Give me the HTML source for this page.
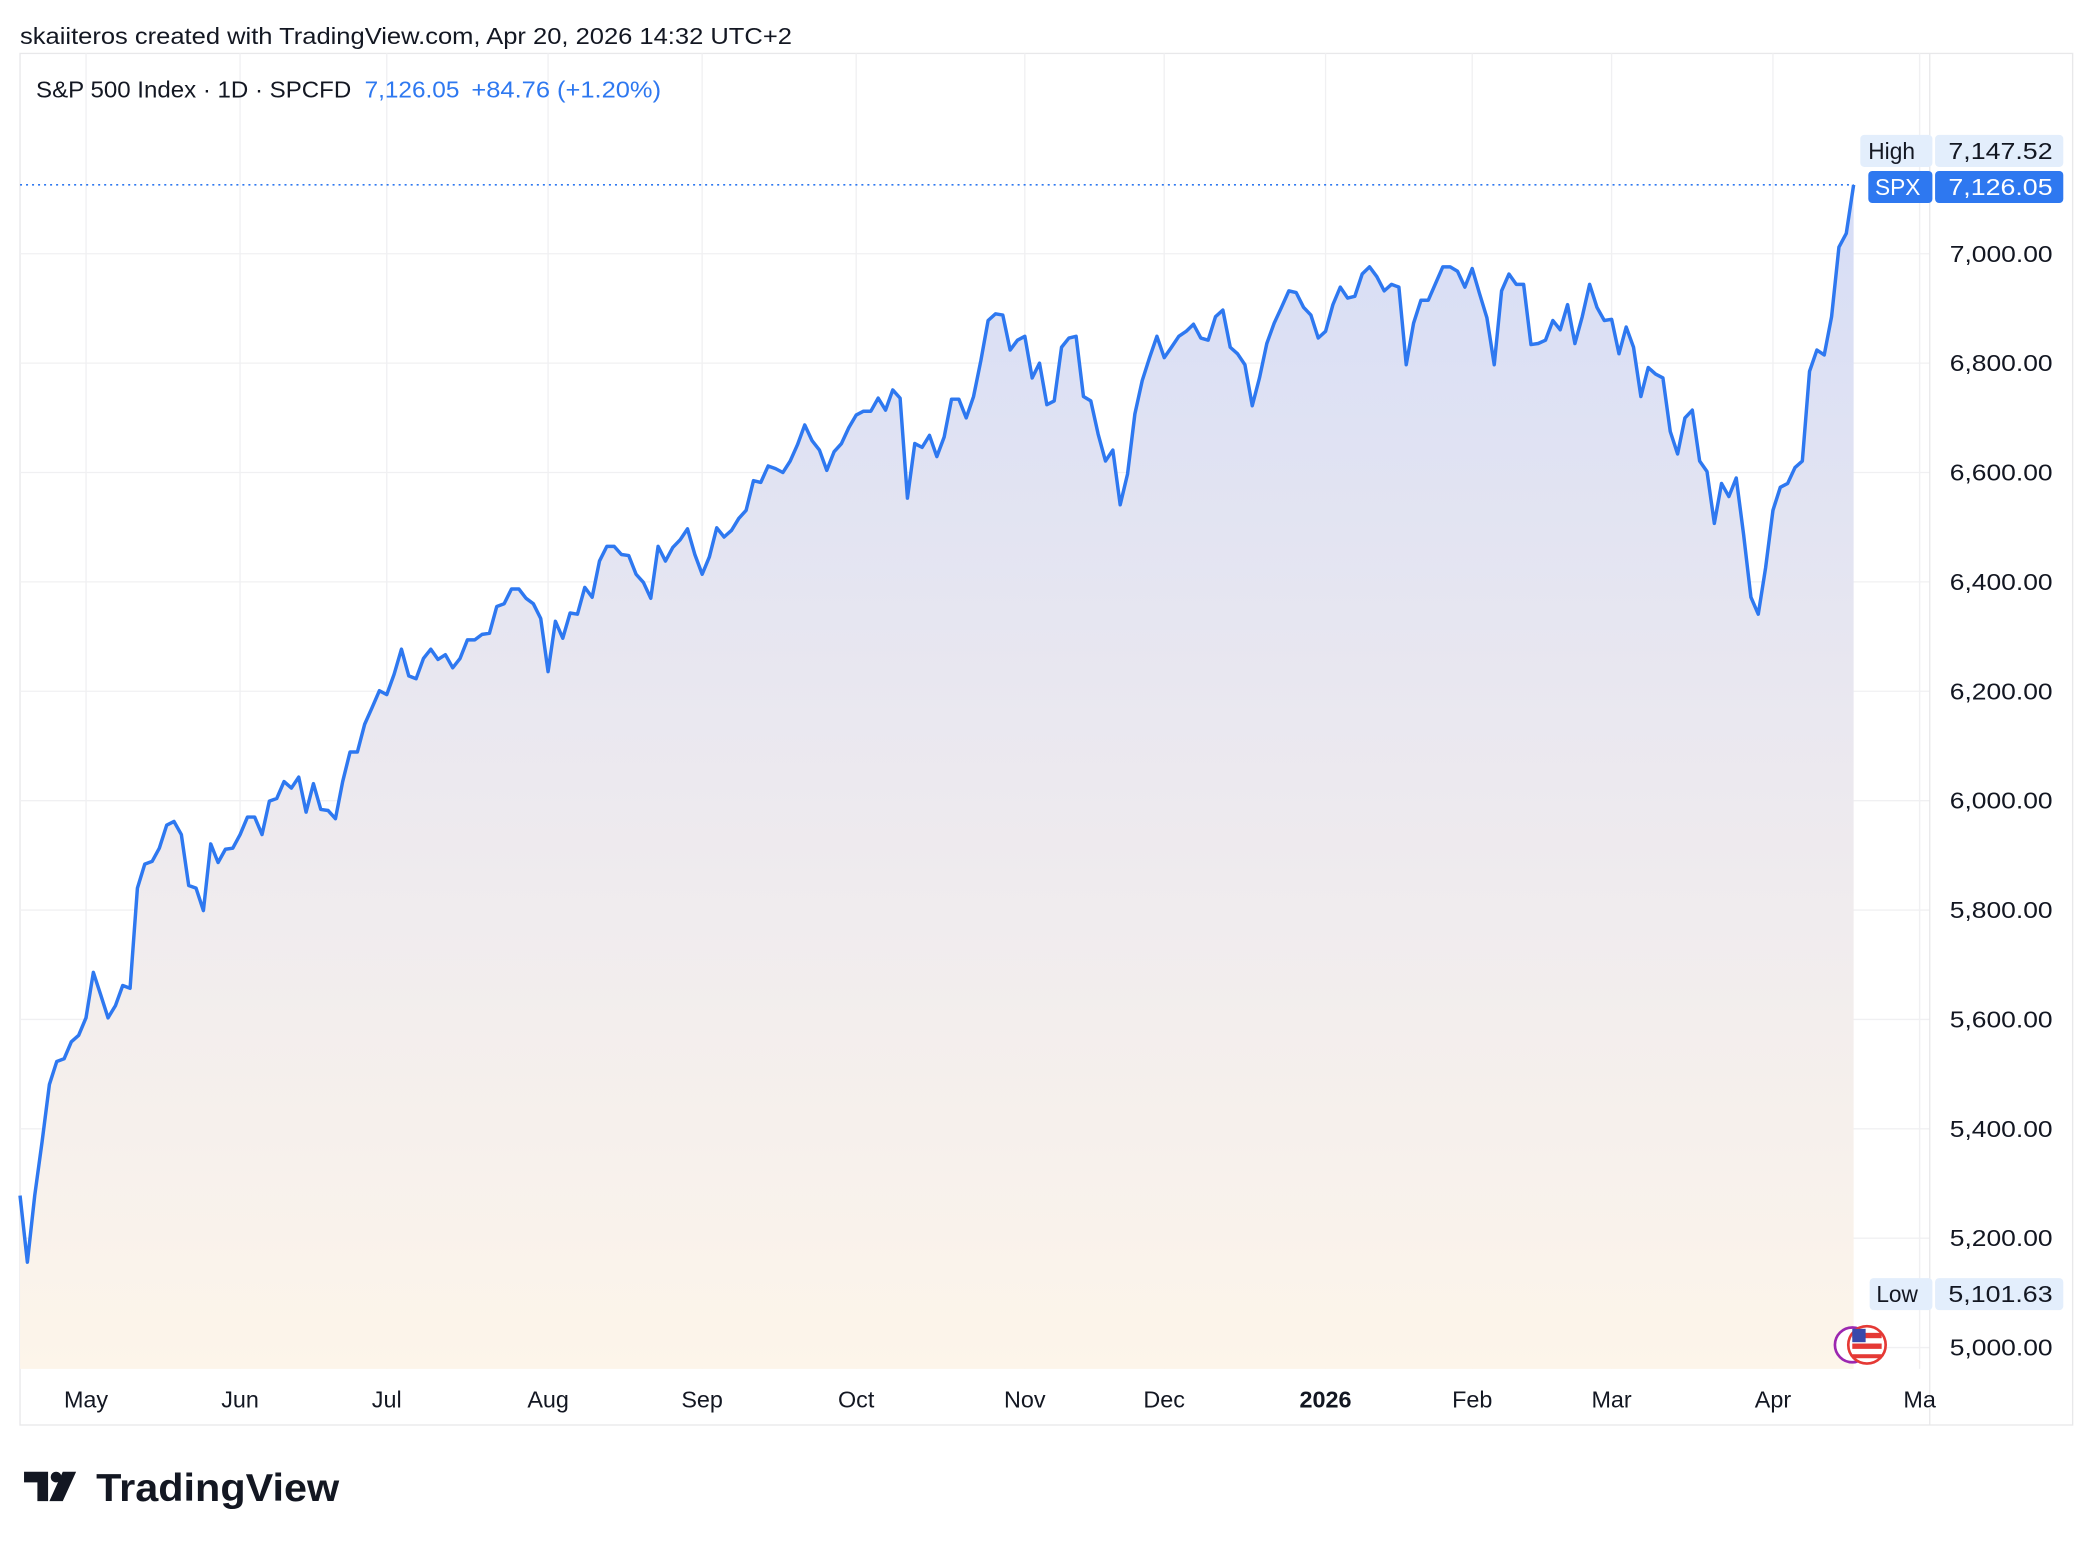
<!DOCTYPE html>
<html><head><meta charset="utf-8"><style>
html,body{margin:0;padding:0;background:#fff}
svg{display:block;font-family:"Liberation Sans",sans-serif}
</style></head><body>
<svg id="chart" width="2094" height="1546" viewBox="0 0 1568 1157.6" preserveAspectRatio="none">
<defs>
<linearGradient id="fillg" x1="0" y1="0" x2="0" y2="1">
<stop offset="0" stop-color="#d6ddf6"/>
<stop offset="0.5" stop-color="#ece9ef"/>
<stop offset="1" stop-color="#fdf5ea"/>
</linearGradient>
</defs>
<rect width="1568" height="1158" fill="#fff"/>
<text x="15" y="33" font-size="17" fill="#131722" textLength="578" lengthAdjust="spacingAndGlyphs">skaiiteros created with TradingView.com, Apr 20, 2026 14:32 UTC+2</text>
<rect x="15" y="40" width="1537" height="1027" fill="none" stroke="#e8e8ea"/>
<g id="grid"></g>
<path id="area" fill="url(#fillg)"/>
<line id="lastline" x1="15" x2="1388" stroke="#2e78f0" stroke-width="1.3" stroke-dasharray="1.5 3"/>
<path id="line" fill="none" stroke="#2e78f0" stroke-width="2.6" stroke-linejoin="round"/>
<line x1="1445" y1="40" x2="1445" y2="1067" stroke="#e8e8ea"/>
<g id="yaxis"></g>
<g id="xaxis"></g>
<g font-size="17">
<text x="27" y="73" fill="#131722" textLength="236" lengthAdjust="spacingAndGlyphs">S&amp;P 500 Index · 1D · SPCFD</text>
<text x="273" y="73" fill="#2e78f0" textLength="71" lengthAdjust="spacingAndGlyphs">7,126.05</text>
<text x="353" y="73" fill="#2e78f0" textLength="142" lengthAdjust="spacingAndGlyphs">+84.76 (+1.20%)</text>
</g>
<g font-size="17">
<rect x="1393" y="101" width="54" height="24" rx="3" fill="#e3eefc"/>
<rect x="1449" y="101" width="96" height="24" rx="3" fill="#e3eefc"/>
<text x="1399" y="119" fill="#131722">High</text>
<text x="1537" y="119" text-anchor="end" fill="#131722" textLength="78" lengthAdjust="spacingAndGlyphs">7,147.52</text>
</g>
<g font-size="17">
<rect x="1399" y="128" width="48" height="24" rx="3" fill="#2e78f0"/>
<rect x="1449" y="128" width="96" height="24" rx="3" fill="#2e78f0"/>
<text x="1404" y="146" fill="#fff">SPX</text>
<text x="1537" y="146" text-anchor="end" fill="#fff" textLength="78" lengthAdjust="spacingAndGlyphs">7,126.05</text>
</g>
<g font-size="17">
<rect x="1400" y="957" width="47" height="24" rx="3" fill="#e3eefc"/>
<rect x="1449" y="957" width="96" height="24" rx="3" fill="#e3eefc"/>
<text x="1405" y="975" fill="#131722">Low</text>
<text x="1537" y="975" text-anchor="end" fill="#131722" textLength="78" lengthAdjust="spacingAndGlyphs">5,101.63</text>
</g>
<g>
<circle cx="1387" cy="1007" r="13" fill="#fff" stroke="#9c27b0" stroke-width="2"/>
<circle cx="1398" cy="1007" r="14" fill="#fff" stroke="#e53935" stroke-width="2"/>
<rect x="1387" y="998" width="22" height="4" fill="#e53935"/><rect x="1387" y="1006" width="22" height="4" fill="#e53935"/><rect x="1387" y="1014" width="22" height="3" fill="#e53935"/>
<rect x="1387" y="995" width="10" height="10" fill="#3949ab"/>
</g>
<g>
<path d="M18 1102h18v22h-8v-14h-10z M47 1102h10l-10 22h-10z" fill="#131722"/>
<circle cx="42" cy="1106" r="4" fill="#131722"/>
<text x="72" y="1124" font-size="29" font-weight="bold" fill="#131722" textLength="182" lengthAdjust="spacingAndGlyphs">TradingView</text>
</g>
</svg>
<script>
const priceValues = [5278,5156,5278,5376,5481,5523,5528,5559,5571,5603,5686,5645,5603,5625,5662,5657,5840,5884,5889,5913,5955,5962,5938,5845,5840,5799,5921,5887,5911,5913,5938,5970,5970,5938,5999,6004,6035,6023,6043,5979,6031,5984,5982,5967,6035,6089,6089,6140,6170,6201,6194,6231,6277,6228,6223,6260,6277,6258,6267,6243,6260,6294,6294,6304,6306,6355,6360,6387,6387,6370,6360,6333,6236,6328,6297,6343,6341,6390,6372,6438,6465,6465,6450,6448,6414,6399,6370,6465,6438,6463,6477,6497,6450,6414,6446,6499,6482,6494,6516,6531,6585,6582,6612,6607,6600,6621,6651,6687,6658,6641,6604,6638,6653,6682,6705,6712,6712,6736,6714,6751,6736,6553,6653,6646,6668,6629,6665,6734,6734,6700,6739,6805,6878,6890,6888,6824,6842,6849,6773,6800,6724,6731,6829,6846,6849,6739,6731,6670,6621,6641,6541,6597,6707,6768,6810,6849,6810,6829,6849,6858,6871,6846,6842,6885,6897,6829,6817,6797,6722,6773,6836,6873,6902,6932,6929,6902,6888,6846,6858,6907,6939,6919,6922,6963,6976,6958,6932,6944,6939,6797,6873,6915,6915,6946,6976,6976,6968,6939,6973,6927,6883,6797,6932,6963,6944,6944,6834,6836,6842,6878,6861,6907,6836,6885,6944,6902,6878,6880,6817,6866,6829,6739,6792,6780,6773,6675,6634,6700,6714,6621,6602,6507,6580,6556,6590,6487,6372,6341,6426,6531,6573,6580,6609,6621,6785,6824,6815,6885,7012,7037,7126.05];
const priceTicks = [5000,5200,5400,5600,5800,6000,6200,6400,6600,6800,7000];
const monthLabels = ["May","Jun","Jul","Aug","Sep","Oct","Nov","Dec","2026","Feb","Mar","Apr","Ma"];
const monthIndex = [9,30,50,72,93,114,137,156,178,198,217,239,259];
const lastPrice = 7126.05;

const NS="http://www.w3.org/2000/svg";
const X0=15, X1=1388, PLOT_BOTTOM=1025;
const xs=i=>X0+i*(X1-X0)/(priceValues.length-1);
const ys=v=>190+(7000-v)*0.4095;
function mk(tag,attrs,parent){const e=document.createElementNS(NS,tag);for(const k in attrs)e.setAttribute(k,attrs[k]);parent.appendChild(e);return e;}
const grid=document.getElementById('grid'), yax=document.getElementById('yaxis'), xax=document.getElementById('xaxis');
priceTicks.forEach(v=>{
  const l=mk('line',{x1:15,x2:1445,y1:ys(v),y2:ys(v),stroke:'#f0f0f2'},grid);
  
  
  const t=mk('text',{x:1537,y:ys(v)+6,'text-anchor':'end','font-size':17,fill:'#131722',textLength:77,lengthAdjust:'spacingAndGlyphs'},yax);
  
  
  t.textContent=v.toLocaleString('en-US',{minimumFractionDigits:2});
});
monthLabels.forEach((m,i)=>{
  const x=xs(monthIndex[i]);
  const l=mk('line',{x1:x,x2:x,y1:40,y2:PLOT_BOTTOM,stroke:'#f0f0f2'},grid);
  
  
  if(x<1445){
    const t=mk('text',{x:x,y:1054,'text-anchor':'middle','font-size':17.5,fill:'#131722','font-weight':m==='2026'?'bold':'normal'},xax);
    
    
    t.textContent=m;
  }
});
let d='';
priceValues.forEach((v,i)=>{d+=(i?'L':'M')+xs(i).toFixed(1)+' '+ys(v).toFixed(1);});
document.getElementById('line').setAttribute('d',d);
document.getElementById('area').setAttribute('d',d+'L'+X1+' '+PLOT_BOTTOM+'L'+X0+' '+PLOT_BOTTOM+'Z');
const ll=document.getElementById('lastline');ll.setAttribute('y1',ys(lastPrice));ll.setAttribute('y2',ys(lastPrice));
</script>
</body></html>
